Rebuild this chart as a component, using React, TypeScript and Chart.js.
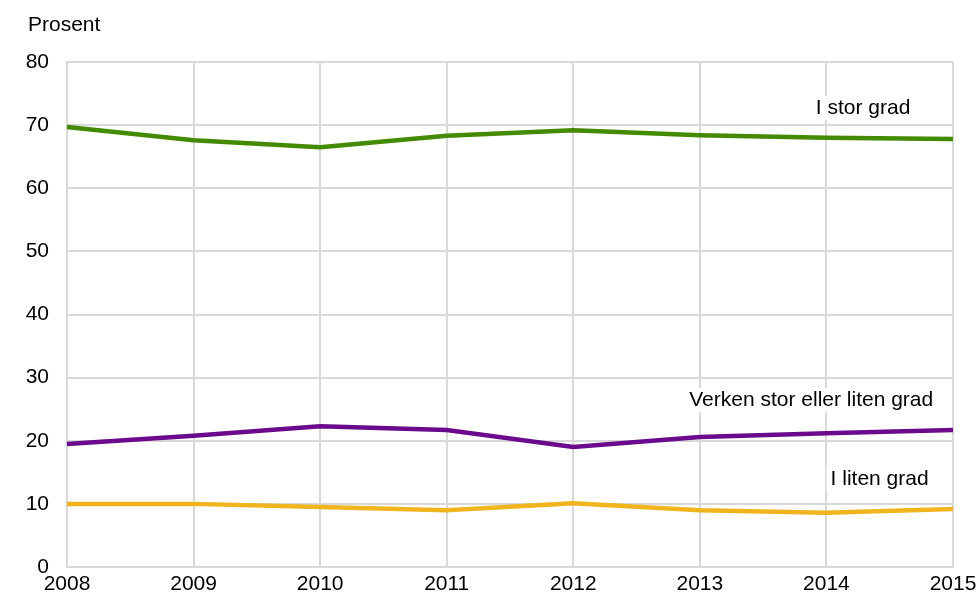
import React, { useEffect, useRef } from "react";
import { Chart, registerables } from "chart.js";

Chart.register(...registerables);

const years = ["2008", "2009", "2010", "2011", "2012", "2013", "2014", "2015"];
const storGrad = [69.7, 67.6, 66.5, 68.3, 69.2, 68.4, 68.0, 67.8];
const verken = [19.5, 20.8, 22.3, 21.7, 19.0, 20.6, 21.2, 21.7];
const litenGrad = [10.0, 10.0, 9.5, 9.0, 10.1, 9.0, 8.6, 9.2];
const yTicks = [0, 10, 20, 30, 40, 50, 60, 70, 80];
const seriesNames = ["I stor grad", "Verken stor eller liten grad", "I liten grad"];
// label anchor positions in data coordinates (x index, y value)
const labelX = [6.29, 5.88, 6.42];
const labelY = [72.7, 26.4, 13.9];
const yTitle = "Prosent";

const FONT = "'Liberation Sans', Arial, sans-serif";

const labelPlugin = {
  id: "seriesLabels",
  afterDatasetsDraw(chart: any) {
    const { ctx, scales } = chart;
    ctx.save();
    ctx.font = `21px ${FONT}`;
    ctx.textAlign = "center";
    ctx.textBaseline = "middle";
    seriesNames.forEach((name, i) => {
      const x = scales.x.getPixelForValue(labelX[i]);
      const y = scales.y.getPixelForValue(labelY[i]);
      const w = ctx.measureText(name).width;
      ctx.fillStyle = "#ffffff";
      ctx.fillRect(x - w / 2 - 4, y - 12, w + 8, 24);
      ctx.fillStyle = "#000000";
      ctx.fillText(name, x, y);
    });
    ctx.textAlign = "left";
    ctx.fillText(yTitle, 28, 25);
    ctx.restore();
  },
};

export default function App() {
  const ref = useRef<HTMLCanvasElement>(null);
  useEffect(() => {
    if (!ref.current) return;
    const chart = new Chart(ref.current, {
      type: "line",
      data: {
        labels: years,
        datasets: [
          { label: seriesNames[0], data: storGrad, borderColor: "#448a00", borderWidth: 4.5, pointRadius: 0, tension: 0 },
          { label: seriesNames[1], data: verken, borderColor: "#6b0a8c", borderWidth: 4.5, pointRadius: 0, tension: 0 },
          { label: seriesNames[2], data: litenGrad, borderColor: "#f0b41e", borderWidth: 4.5, pointRadius: 0, tension: 0 },
        ],
      },
      options: {
        animation: false,
        responsive: false,
        layout: { padding: { top: 62, right: 26, left: 0, bottom: 0 } },
        plugins: { legend: { display: false }, tooltip: { enabled: false } },
        scales: {
          x: {
            type: "category",
            offset: false,
            grid: { color: "#d9d9d9", lineWidth: 2, drawTicks: false },
            border: { color: "#d9d9d9", width: 2 },
            ticks: { color: "#000", font: { size: 21, family: FONT }, padding: 5, maxRotation: 0, autoSkip: false },
            afterFit: (s: any) => { s.height = 26; s.paddingLeft = 0; s.paddingRight = 0; },
          },
          y: {
            min: 0,
            max: 80,
            afterBuildTicks: (s: any) => { s.ticks = yTicks.map((v) => ({ value: v })); },
            grid: { color: "#d9d9d9", lineWidth: 2, drawTicks: false },
            border: { color: "#d9d9d9", width: 2 },
            ticks: { color: "#000", font: { size: 21, family: FONT }, padding: 18 },
            afterFit: (s: any) => { s.width = 67; s.paddingTop = 0; s.paddingBottom = 0; },
          },
        },
      },
      plugins: [labelPlugin],
    });
    return () => chart.destroy();
  }, []);
  return (
    <div style={{ position: "fixed", left: 0, top: 0, width: 979, height: 593, background: "#fff" }}>
      <canvas ref={ref} width={979} height={593} />
    </div>
  );
}
